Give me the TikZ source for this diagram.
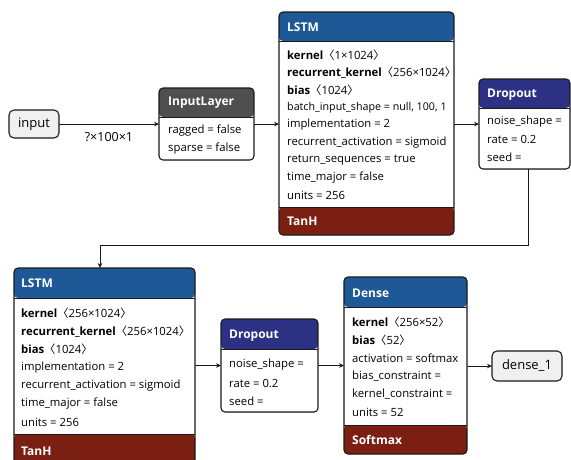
\documentclass[tikz,border=0pt]{standalone}
\usepackage{fontspec}
\setmainfont{Open Sans}
\newfontfamily\cjkbr{Noto Sans CJK SC}
\usetikzlibrary{arrows.meta}
\definecolor{hblue}{HTML}{1F5896}
\definecolor{hnavy}{HTML}{2C3183}
\definecolor{hgray}{HTML}{4F4F4F}
\definecolor{fred}{HTML}{7A1F12}
\definecolor{edgec}{HTML}{1A1A1A}
\newcommand{\shp}[1]{{\cjkbr 〈}#1{\cjkbr 〉}}
\newcommand{\bodylines}[5]{%
  \foreach \t [count=\i] in {#5}
    \node[btxt] (#1-\i) at (#2, {#3+#4*(\i-1)}) {\t};}
\begin{document}
\begin{tikzpicture}[x=1pt,y=-1pt,
  layer/.style n args={4}{draw=edgec, line width=1.1pt, rounded corners=4pt,
    fill=white, anchor=north west, inner sep=0pt, outer sep=0pt,
    path picture={
      \fill[#3] (path picture bounding box.north west) rectangle ([yshift=-#1 pt]path picture bounding box.north east);
      \draw[edgec, line width=0.8pt] ([yshift=-#1 pt]path picture bounding box.north west) -- ([yshift=-#1 pt]path picture bounding box.north east);
      \fill[#4] ([yshift=#2 pt]path picture bounding box.south west) rectangle (path picture bounding box.south east);
      \draw[edgec, line width=0.8pt] ([yshift=#2 pt]path picture bounding box.south west) -- ([yshift=#2 pt]path picture bounding box.south east);
    }},
  term/.style={draw=edgec, line width=1.1pt, rounded corners=5pt, fill=black!6,
    anchor=north west, inner sep=0pt, outer sep=0pt},
  htxt/.style={anchor=west, inner sep=0pt, text=white, font=\fontsize{12}{14}\selectfont\bfseries},
  btxt/.style={anchor=west, inner sep=0pt, text=black, font=\fontsize{11.3}{13}\selectfont},
  ttxt/.style={inner sep=0pt, text=black, font=\fontsize{13}{15}\selectfont},
  arr/.style={draw=edgec, line width=1pt, -{Stealth[length=5pt,width=4.5pt]}}
]
\useasboundingbox (0,0) rectangle (571,459);

% terminals
\node[term, minimum width=50pt, minimum height=28pt] (input) at (9,110) {};
\node[ttxt] (input-t) at (input.center) {input};
\node[term, minimum width=70pt, minimum height=30pt] (dense1) at (492,351) {};
\node[ttxt] (dense1-t) at (dense1.center) {dense\_1};

% InputLayer
\node[layer={29}{0}{hgray}{white}, minimum width=95pt, minimum height=72pt] (inl) at (159,88) {};
\node[htxt] (inl-h) at (168,103) {InputLayer};
\bodylines{inl}{168}{131}{17.5}{{ragged = false},{sparse = false}}

% LSTM 1
\node[layer={29}{28}{hblue}{fred}, minimum width=175pt, minimum height=223pt] (lstma) at (279,12) {};
\node[htxt] (lstma-h) at (287,27) {LSTM};
\bodylines{lstma}{287}{55}{17.5}{{\textbf{kernel}\shp{1×1024}},{\textbf{recurrent\_kernel}\shp{256×1024}},{\textbf{bias}\shp{1024}},{\fontsize{10.7}{13}\selectfont batch\_input\_shape = null, 100, 1},{implementation = 2},{recurrent\_activation = sigmoid},{return\_sequences = true},{time\_major = false},{units = 256}}
\node[htxt] (lstma-f) at (287,221) {TanH};

% Dropout 1
\node[layer={29}{0}{hnavy}{white}, minimum width=91pt, minimum height=90pt] (dropa) at (479,79) {};
\node[htxt] (dropa-h) at (487,95) {Dropout};
\bodylines{dropa}{487}{122}{17.5}{{noise\_shape =},{rate = 0.2},{seed =}}

% LSTM 2
\node[layer={30}{44}{hblue}{fred}, minimum width=181pt, minimum height=210pt] (lstmb) at (14,268) {};
\node[htxt] (lstmb-h) at (21,283) {LSTM};
\bodylines{lstmb}{21}{313}{18.2}{{\textbf{kernel}\shp{256×1024}},{\textbf{recurrent\_kernel}\shp{256×1024}},{\textbf{bias}\shp{1024}},{implementation = 2},{recurrent\_activation = sigmoid},{time\_major = false},{units = 256}}
\node[htxt] (lstmb-f) at (21,451) {TanH};

% Dropout 2
\node[layer={30}{0}{hnavy}{white}, minimum width=97pt, minimum height=93pt] (dropb) at (221,319) {};
\node[htxt] (dropb-h) at (229,336) {Dropout};
\bodylines{dropb}{229}{365}{18}{{noise\_shape =},{rate = 0.2},{seed =}}

% Dense
\node[layer={30}{29}{hblue}{fred}, minimum width=123pt, minimum height=177pt] (dense) at (344,277) {};
\node[htxt] (dense-h) at (352,293) {Dense};
\bodylines{dense}{352}{322}{18}{{\textbf{kernel}\shp{256×52}},{\textbf{bias}\shp{52}},{activation = softmax},{bias\_constraint =},{kernel\_constraint =},{units = 52}}
\node[htxt] (dense-f) at (352,440) {Softmax};

% connectors
\draw[arr] (input.east) -- (input.east -| inl.west)
  node[midway, below=13pt, ttxt, anchor=center, font=\fontsize{12.5}{14}\selectfont] (shape-l) {?×100×1};
\draw[arr] (inl.east |- input.east) -- (input.east -| lstma.west);
\draw[arr] (lstma.east |- input.east) -- (input.east -| dropa.west);
\coordinate (bendA) at (528,245);
\coordinate (bendB) at (100,245);
\draw[arr] (dropa.south -| bendA) -- (bendA) -- (bendB) -- (bendB |- lstmb.north);
\draw[arr] (lstmb.east |- dropb.west) -- (dropb.west);
\draw[arr] (dropb.east) -- (dropb.east -| dense.west);
\draw[arr] (dense.east |- dense1.west) -- (dense1.west);
\end{tikzpicture}
\end{document}
